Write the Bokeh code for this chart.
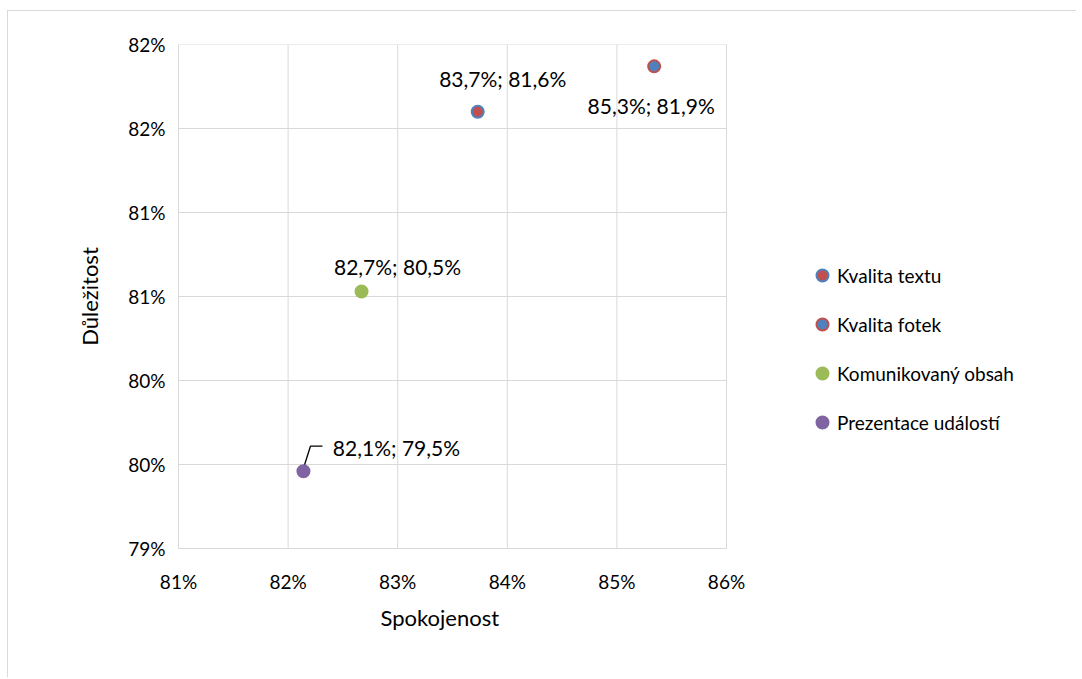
from bokeh.plotting import figure
from bokeh.models import Legend, LegendItem, FixedTicker, Range1d, ColumnDataSource, Title
from bokeh.embed import file_html
from bokeh.resources import INLINE
from bokeh.core.properties import value

# ---- data ----
series = ["Kvalita textu", "Kvalita fotek", "Komunikovaný obsah", "Prezentace událostí"]
spokojenost = [83.73, 85.34, 82.67, 82.14]
dulezitost = [81.60, 81.87, 80.53, 79.46]
point_labels = ["83,7%; 81,6%", "85,3%; 81,9%", "82,7%; 80,5%", "82,1%; 79,5%"]
fill_colors = ["#C0504D", "#4F81BD", "#9BBB59", "#8064A2"]
line_colors = ["#4F81BD", "#C0504D", "#9BBB59", "#8064A2"]

x_ticks = [81, 82, 83, 84, 85, 86]
x_tick_labels = ["81%", "82%", "83%", "84%", "85%", "86%"]
y_ticks = [79.0, 79.5, 80.0, 80.5, 81.0, 81.5, 82.0]
y_tick_labels = ["79%", "80%", "80%", "81%", "81%", "82%", "82%"]
x_title = "Spokojenost"
y_title = "Důležitost"

# label offsets (screen px)
lab_dx = [25, -3, 36, 93]
lab_dy = [-33, 39, -25, -24]

FONT = "Lato"
GRID = "#D9D9D9"

W, H = 1069, 667
BL, BT, BR, BB = 170, 33, 0, 130
DATA_W = 548  # pixel width of the 81..86 data area
x0, x1 = x_ticks[0], x_ticks[-1]
y0, y1 = y_ticks[0], y_ticks[-1]
frame_w = W - BL - BR
x_end = x0 + (x1 - x0) * frame_w / DATA_W

p = figure(width=W, height=H, output_backend="svg", toolbar_location=None,
           x_range=Range1d(x0, x_end), y_range=Range1d(y0, y1),
           min_border_left=BL, min_border_top=BT, min_border_right=BR,
           min_border_bottom=BB, outline_line_color=None)
p.margin = (10, 0, 0, 7)
p.styles = {"border-top": "1px solid #D9D9D9", "border-left": "1px solid #D9D9D9"}
p.grid.visible = False

# gridlines limited to the data area
p.segment(x0=x_ticks, y0=[y0] * len(x_ticks), x1=x_ticks, y1=[y1] * len(x_ticks),
          line_color=GRID, line_width=1)
p.segment(x0=[x0] * len(y_ticks), y0=y_ticks, x1=[x1] * len(y_ticks), y1=y_ticks,
          line_color=GRID, line_width=1)

for ax, ticks, labels in ((p.xaxis[0], x_ticks, x_tick_labels), (p.yaxis[0], y_ticks, y_tick_labels)):
    ax.ticker = FixedTicker(ticks=ticks)
    ax.bounds = (ticks[0], ticks[-1])
    ax.major_label_overrides = {t: l for t, l in zip(ticks, labels)}
    ax.major_tick_line_color = None
    ax.major_tick_out = 0
    ax.major_tick_in = 0
    ax.minor_tick_line_color = None
    ax.axis_line_color = GRID
    ax.major_label_text_font = FONT
    ax.major_label_text_font_size = "19px"
    ax.major_label_text_color = "#000000"
    ax.axis_label_text_font = FONT
    ax.axis_label_text_font_size = "22px"
    ax.axis_label_text_font_style = "normal"
    ax.axis_label_text_color = "#000000"

p.yaxis.axis_label = y_title
p.xaxis.major_label_standoff = 21
p.yaxis.major_label_standoff = 13
p.yaxis.axis_label_standoff = 22

# x-axis title centred under the data area
p.add_layout(Title(text=x_title, align="left", offset=202, standoff=12,
                   text_font=FONT, text_font_size="22px", text_font_style="normal",
                   text_color="#000000"), "below")

# leader line for the last label (screen offsets converted to data units)
px_x = (x1 - x0) / DATA_W
px_y = (y1 - y0) / 504
lx, ly = spokojenost[3], dulezitost[3]
p.line([lx, lx + 7 * px_x, lx + 19 * px_x], [ly + 3 * px_y, ly + 25 * px_y, ly + 25 * px_y],
       line_color="black", line_width=1.3)

items = []
for i, name in enumerate(series):
    src = ColumnDataSource(dict(x=[spokojenost[i]], y=[dulezitost[i]], t=[point_labels[i]]))
    r = p.scatter("x", "y", source=src, size=12, fill_color=fill_colors[i],
                  line_color=line_colors[i], line_width=2)
    p.text("x", "y", text="t", source=src, x_offset=lab_dx[i], y_offset=lab_dy[i],
           text_align="center", text_baseline="middle", text_font=value(FONT),
           text_font_size="21px", text_color="#000000")
    items.append(LegendItem(label=name, renderers=[r]))

legend = Legend(items=items, location=(629, 111), glyph_width=30, glyph_height=30,
                label_height=30, spacing=19, label_standoff=0, padding=0, margin=0,
                border_line_color=None, background_fill_alpha=0,
                label_text_font=FONT, label_text_font_size="19px", label_text_color="#000000")
p.add_layout(legend, "center")

open("out.html", "w").write(file_html(p, INLINE))
